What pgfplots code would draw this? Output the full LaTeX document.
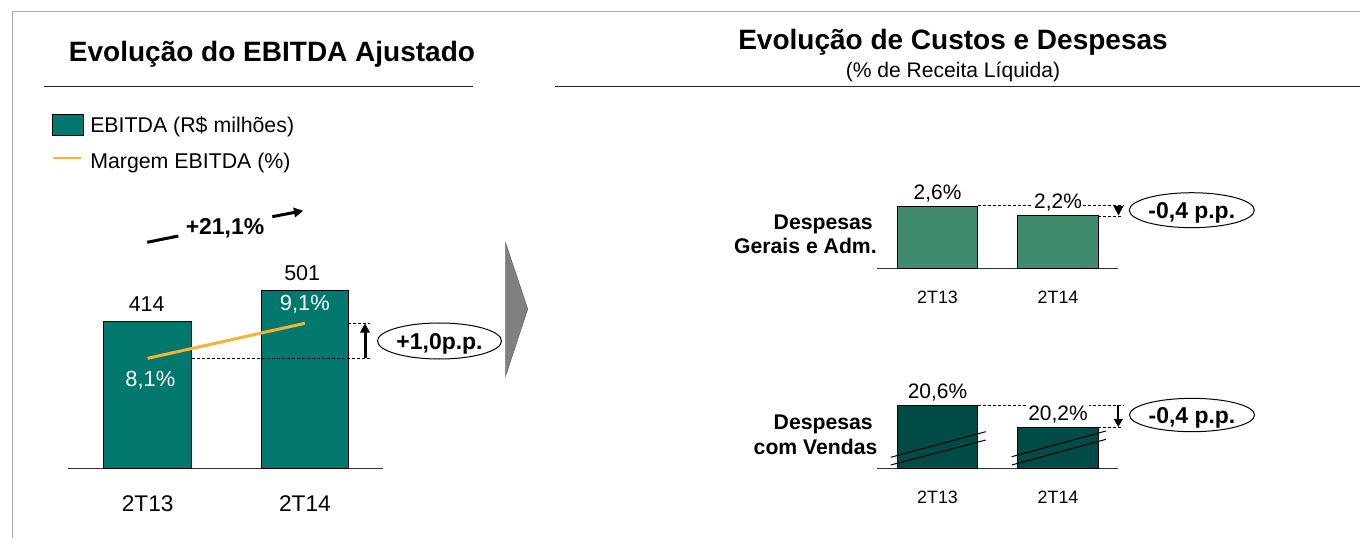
\documentclass[border=0pt]{standalone}
\usepackage{fontspec}
\setmainfont{Liberation Sans}
\usepackage{pgfplots}
\pgfplotsset{compat=1.18}
\usetikzlibrary{arrows.meta}
\definecolor{ebitda}{HTML}{00786D}
\definecolor{marg}{HTML}{F9B233}
\definecolor{ga}{HTML}{408A6E}
\definecolor{vend}{HTML}{004B45}
\definecolor{chev}{HTML}{808080}
\definecolor{frame}{HTML}{A8A8A8}
\newcommand{\fs}[1]{\fontsize{#1}{1.2\dimexpr#1pt\relax}\selectfont}
\begin{document}
\begin{tikzpicture}[x=0.75pt,y=-0.75pt]
\useasboundingbox (0,0) rectangle (1360,538);
% frame
\draw[color=frame, line width=1.1pt] (12.5,538) -- (12.5,11.7) -- (1360,11.7);
% titles
\node[anchor=base, inner sep=0, font=\fs{21}\bfseries] at (272,61.7) {Evolução do EBITDA Ajustado};
\draw[line width=0.75pt, black!85] (44,86.7) -- (473,86.7);
\node[anchor=base, inner sep=0, font=\fs{21}\bfseries] at (953,50) {Evolução de Custos e Despesas};
\node[anchor=base, inner sep=0, font=\fs{15.8}] at (953,77.5) {(\% de Receita Líquida)};
\draw[line width=0.75pt, black!85] (555,86.7) -- (1360,86.7);
% legend
\draw[fill=ebitda, line width=0.75pt] (52.5,114.3) rectangle (83,135.7);
\node[anchor=base west, inner sep=0, font=\fs{16}] at (90,132.6) {EBITDA (R\$ milhões)};
\draw[marg, line width=1.5pt] (52.5,158.3) -- (81.4,158.3);
\node[anchor=base west, inner sep=0, font=\fs{16}] at (90,168.3) {Margem EBITDA (\%)};

% left bars
\begin{axis}[at={(51pt,-351.525pt)}, anchor=south west, scale only axis,
  width=236.25pt, height=159.75pt, xmin=-0.507, xmax=1.497, ymin=0, ymax=600,
  axis x line*=bottom, axis y line=none,
  x axis line style={-, line width=0.75pt, black!80},
  xtick={0,1}, xticklabels={2T13,2T14}, major tick length=0pt,
  xticklabel style={anchor=base, yshift=-32pt, font=\fs{17}},
  ytick=\empty, clip=false]
\addplot[ybar, bar width=65.6pt, fill=ebitda, draw=black, line width=0.75pt] coordinates {(0,414) (1,501)};
\node[anchor=base, font=\fs{16.1}, xshift=-0.75pt, yshift=7.7pt] at (axis cs:0,414) {414};
\node[anchor=base, font=\fs{16.1}, xshift=-2pt, yshift=7.7pt] at (axis cs:1,501) {501};
\end{axis}
% margin line
\begin{axis}[at={(51pt,-351.525pt)}, anchor=south west, scale only axis,
  width=236.25pt, height=159.75pt, xmin=-0.507, xmax=1.497, ymin=4.946, ymax=11.032,
  hide axis, clip=false]
\addplot[marg, line width=2.25pt] coordinates {(0,8.1) (1,9.1)};
\node[white, anchor=base, font=\fs{16.4}, xshift=2pt, yshift=-20.9pt] at (axis cs:0,8.1) {8,1\%};
\node[white, anchor=base, font=\fs{16.4}, yshift=9.4pt] at (axis cs:1,9.1) {9,1\%};
\end{axis}

% left annotations
\draw[line width=0.6pt, dash pattern=on 2.25pt off 1.5pt] (348,323.3) -- (370,323.3);
\draw[line width=0.6pt, dash pattern=on 2.25pt off 1.5pt] (192,358.3) -- (370,358.3);
\draw[line width=2.25pt, -{Triangle[length=7pt,width=7pt]}] (365,358.3) -- (365,323.3);
\draw[line width=0.75pt] (439.5,341) ellipse [x radius=46.5pt, y radius=13.5pt];
\node[anchor=base, inner sep=0, font=\fs{17.2}\bfseries] at (439.5,349.2) {+1,0p.p.};
\node[anchor=base, inner sep=0, font=\fs{17.2}\bfseries] at (225,234.9) {+21,1\%};
\draw[line width=2.25pt] (147.3,242.3) -- (178.3,236);
\draw[line width=2.25pt, -{Triangle[length=7pt,width=7pt]}] (272.3,216.7) -- (303.3,210.7);
% chevron
\filldraw[fill=chev, draw=chev!85!black, line width=0.5pt] (505.7,243.3) -- (527.7,309) -- (505.7,375.7) -- cycle;

% right top
\begin{axis}[at={(657.525pt,-201.525pt)}, anchor=south west, scale only axis,
  width=180.75pt, height=54pt, xmin=-0.5046, xmax=1.4954, ymin=0, ymax=3,
  axis x line*=bottom, axis y line=none,
  x axis line style={-, line width=0.75pt, black!80},
  xtick={0,1}, xticklabels={2T13,2T14}, major tick length=0pt,
  xticklabel style={anchor=base, yshift=-26.25pt, font=\fs{13.4}},
  ytick=\empty, clip=false]
\addplot[ybar, bar width=60.4pt, fill=ga, draw=black, line width=0.75pt] coordinates {(0,2.6) (1,2.2)};
\end{axis}
\draw[line width=0.6pt, dash pattern=on 2.25pt off 1.5pt] (977.7,205.8) -- (1123,205.8);
\draw[line width=0.6pt, dash pattern=on 2.25pt off 1.5pt] (1098.3,216) -- (1123,216);
\begin{axis}[at={(657.525pt,-201.525pt)}, anchor=south west, scale only axis,
  width=180.75pt, height=54pt, xmin=-0.5046, xmax=1.4954, ymin=0, ymax=3,
  hide axis, clip=false]
\addplot[draw=none] coordinates {(0,2.6) (1,2.2)};
\node[anchor=base, font=\fs{15.7}, fill=white, inner sep=1pt, yshift=5.2pt] at (axis cs:0,2.6) {2,6\%};
\node[anchor=base, font=\fs{15.7}, fill=white, inner sep=1pt, yshift=5.2pt] at (axis cs:1,2.2) {2,2\%};
\end{axis}
\fill (1113.5,206) -- (1123.5,206) -- (1118.5,215.5) -- cycle;
\draw[line width=0.75pt] (1191.8,210.2) ellipse [x radius=46.9pt, y radius=13.1pt];
\node[anchor=base, inner sep=0, font=\fs{17.2}\bfseries] at (1191.8,218.4) {-0,4 p.p.};
\node[anchor=base east, inner sep=0, font=\fs{15.9}\bfseries] at (873,229.3) {Despesas};
\node[anchor=base east, inner sep=0, font=\fs{15.9}\bfseries] at (877,253.6) {Gerais e Adm.};

% right bottom
\begin{axis}[at={(657.525pt,-351.525pt)}, anchor=south west, scale only axis,
  width=180.75pt, height=54pt, xmin=-0.5046, xmax=1.4954, ymin=19.433, ymax=20.766,
  axis x line*=bottom, axis y line=none,
  x axis line style={-, line width=0.75pt, black!80},
  xtick={0,1}, xticklabels={2T13,2T14}, major tick length=0pt,
  xticklabel style={anchor=base, yshift=-25.8pt, font=\fs{13.4}},
  ytick=\empty, clip mode=individual]
\addplot[ybar, bar width=60.4pt, fill=vend, draw=black, line width=0.75pt] coordinates {(0,20.6) (1,20.2)};
\end{axis}
\draw[line width=0.6pt, dash pattern=on 2.25pt off 1.5pt] (977.7,405.5) -- (1123,405.5);
\draw[line width=0.6pt, dash pattern=on 2.25pt off 1.5pt] (1098.3,427.3) -- (1123,427.3);
\begin{axis}[at={(657.525pt,-351.525pt)}, anchor=south west, scale only axis,
  width=180.75pt, height=54pt, xmin=-0.5046, xmax=1.4954, ymin=19.433, ymax=20.766,
  hide axis, clip=false]
\addplot[draw=none] coordinates {(0,20.6) (1,20.2)};
\node[anchor=base, font=\fs{15.7}, fill=white, inner sep=1pt, yshift=5.1pt] at (axis cs:0,20.6) {20,6\%};
\node[anchor=base, font=\fs{15.7}, fill=white, inner sep=1pt, yshift=5.1pt] at (axis cs:1,20.2) {20,2\%};
\end{axis}
\draw[line width=1.5pt, -{Triangle[length=6pt,width=6.5pt]}] (1118.3,405.3) -- (1118.3,427);
\draw[line width=0.75pt] (1192,415) ellipse [x radius=46.9pt, y radius=12.5pt];
\node[anchor=base, inner sep=0, font=\fs{17.2}\bfseries] at (1192,423.2) {-0,4 p.p.};
\node[anchor=base east, inner sep=0, font=\fs{15.9}\bfseries] at (873,429.3) {Despesas};
\node[anchor=base east, inner sep=0, font=\fs{15.9}\bfseries] at (877.7,454.3) {com Vendas};
% break marks
\draw[line width=0.75pt] (890.7,457.3) -- (985.7,431.7);
\draw[line width=0.75pt] (890.7,465) -- (985.7,440);
\draw[line width=0.75pt] (1011.7,456.7) -- (1106,431);
\draw[line width=0.75pt] (1011.7,465) -- (1106,439.3);
\end{tikzpicture}
\end{document}
